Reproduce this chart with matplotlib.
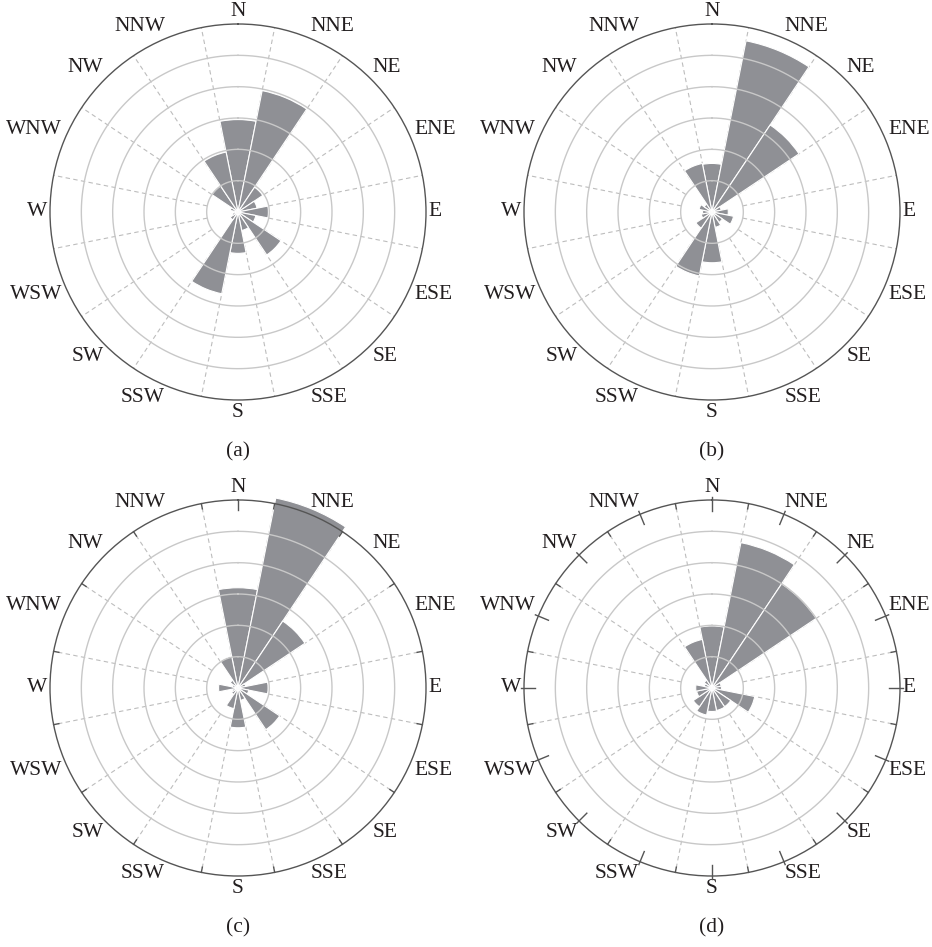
import numpy as np
import matplotlib.pyplot as plt

# direction names (clockwise from north)
directions = ["N", "NNE", "NE", "ENE", "E", "ESE", "SE", "SSE",
              "S", "SSW", "SW", "WSW", "W", "WNW", "NW", "NNW"]

# wind frequencies
freq_a = [2.95, 3.95, 0.95, 0.62, 0.97, 0.58, 1.65, 0.60,
          1.32, 2.66, 0.30, 0.20, 0.15, 0.25, 1.00, 1.95]
freq_b = [1.55, 5.57, 3.34, 0.30, 0.52, 0.70, 0.40, 0.50,
          1.62, 2.08, 0.62, 0.35, 0.30, 0.42, 0.30, 1.58]
freq_c = [3.20, 6.18, 2.57, 0.25, 0.96, 0.35, 1.60, 0.40,
          1.27, 0.67, 0.25, 0.20, 0.62, 0.20, 0.30, 1.03]
freq_d = [1.98, 4.73, 4.00, 0.30, 0.30, 1.39, 0.72, 0.73,
          0.75, 0.88, 0.72, 0.50, 0.52, 0.25, 0.30, 1.58]

captions = ["(a)", "(b)", "(c)", "(d)"]
rings = [1, 2, 3, 4, 5]

W_PX, H_PX = 932, 947
R_PX = 188
RMAX = 6.0

cor_barra = "#8f9095"
cor_anel = "#c8c8c8"
cor_tracejado = "#bdbdbd"
cor_borda = "#555555"
cor_texto = "#231f20"
fonte = "Liberation Serif"
tam = 15.5

fig = plt.figure(figsize=(W_PX / 100, H_PX / 100), dpi=100)

step = 2 * np.pi / len(directions)
theta = np.arange(len(directions)) * step
bounds = theta + step / 2


def rosa(cx, cy, valores, legenda, marcas):
    ax = fig.add_axes([(cx - R_PX) / W_PX, 1 - (cy + R_PX) / H_PX,
                       2 * R_PX / W_PX, 2 * R_PX / H_PX], projection="polar")
    ax.set_theta_zero_location("N")
    ax.set_theta_direction(-1)
    ax.set_ylim(0, RMAX)
    ax.set_xticks([])
    ax.set_yticks([])
    ax.grid(False)
    ax.spines["polar"].set_color(cor_borda)
    ax.spines["polar"].set_linewidth(1.0)

    # dashed sector lines
    for b in bounds:
        ax.plot([b, b], [rings[0], RMAX], color=cor_tracejado, lw=0.8,
                ls=(0, (4, 3)), zorder=1)

    ax.bar(theta, valores, width=step, color=cor_barra, edgecolor="white",
           linewidth=0.8, zorder=2, clip_on=False)

    tt = np.linspace(0, 2 * np.pi, 400)
    for r in rings:
        ax.plot(tt, np.full_like(tt, r), color=cor_anel, lw=1.0, zorder=3)

    # outer tick marks
    if marcas == "c":
        for b in bounds:
            ax.plot([b, b], [RMAX, RMAX - 0.17], color=cor_borda, lw=1,
                    clip_on=False, zorder=4)
        ax.plot([0, 0], [RMAX, RMAX - 0.32], color=cor_borda, lw=1,
                clip_on=False, zorder=4)
    elif marcas == "d":
        for b in bounds:
            ax.plot([b, b], [RMAX, RMAX - 0.17], color=cor_borda, lw=1,
                    clip_on=False, zorder=4)
        for t in theta:
            ax.plot([t, t], [RMAX + 0.1, RMAX - 0.35], color=cor_borda, lw=1,
                    clip_on=False, zorder=4)

    # direction labels
    for t, nome in zip(theta, directions):
        s, c = np.sin(t), np.cos(t)
        ha = "left" if s > 0.01 else ("right" if s < -0.01 else "center")
        va = "bottom" if c > 0.01 else ("top" if c < -0.01 else "center")
        ax.text(t, RMAX + 0.08, nome, ha=ha, va=va, fontsize=tam,
                family=fonte, color=cor_texto)

    fig.text(cx / W_PX, 1 - (cy + 240) / H_PX, legenda, ha="center",
             va="center", fontsize=tam, family=fonte, color=cor_texto)


rosa(238, 212, freq_a, captions[0], None)
rosa(712, 212, freq_b, captions[1], None)
rosa(238, 688, freq_c, captions[2], "c")
rosa(712, 688, freq_d, captions[3], "d")

fig.savefig("out.png", dpi=100)
